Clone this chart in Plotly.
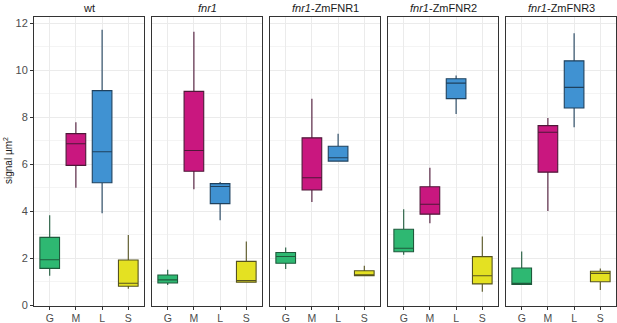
import plotly.graph_objects as go

categories = ["G", "M", "L", "S"]
panel_titles = ["wt", "<i>fnr1</i>", "<i>fnr1</i>-ZmFNR1", "<i>fnr1</i>-ZmFNR2", "<i>fnr1</i>-ZmFNR3"]

# per panel: values for G, M, L, S
wt_lower = [1.25, 5.00, 3.91, 0.69]
wt_q1 = [1.56, 5.95, 5.21, 0.80]
wt_median = [1.93, 6.87, 6.53, 0.93]
wt_q3 = [2.88, 7.30, 9.13, 1.92]
wt_upper = [3.82, 7.78, 11.72, 2.98]

fnr1_lower = [0.85, 4.93, 3.61, 0.97]
fnr1_q1 = [0.94, 5.70, 4.32, 0.97]
fnr1_median = [1.07, 6.58, 5.05, 1.04]
fnr1_q3 = [1.28, 9.10, 5.17, 1.86]
fnr1_upper = [1.50, 11.64, 5.24, 2.71]

zm1_lower = [1.53, 4.39, 6.10, 1.25]
zm1_q1 = [1.78, 4.90, 6.13, 1.25]
zm1_median = [2.07, 5.42, 6.27, 1.28]
zm1_q3 = [2.24, 7.12, 6.76, 1.46]
zm1_upper = [2.45, 8.79, 7.30, 1.67]

zm2_lower = [2.14, 3.48, 8.14, 0.57]
zm2_q1 = [2.27, 3.87, 8.79, 0.90]
zm2_median = [2.42, 4.29, 9.45, 1.25]
zm2_q3 = [3.23, 5.04, 9.64, 2.06]
zm2_upper = [4.08, 5.85, 9.78, 2.92]

zm3_lower = [0.88, 4.01, 7.57, 0.64]
zm3_q1 = [0.88, 5.66, 8.39, 0.99]
zm3_median = [0.90, 7.36, 9.27, 1.35]
zm3_q3 = [1.58, 7.64, 10.40, 1.44]
zm3_upper = [2.28, 7.97, 11.58, 1.56]

y_ticks = [0, 2, 4, 6, 8, 10, 12]

panels = [
    (wt_lower, wt_q1, wt_median, wt_q3, wt_upper),
    (fnr1_lower, fnr1_q1, fnr1_median, fnr1_q3, fnr1_upper),
    (zm1_lower, zm1_q1, zm1_median, zm1_q3, zm1_upper),
    (zm2_lower, zm2_q1, zm2_median, zm2_q3, zm2_upper),
    (zm3_lower, zm3_q1, zm3_median, zm3_q3, zm3_upper),
]

fills = ["#2EB872", "#C9177F", "#4092D2", "#E4E122"]
edges = ["#1F5A3C", "#4E1838", "#1F415E", "#555320"]

W, H = 617, 323
FONT = "Liberation Sans, Arial, sans-serif"

fig = go.Figure()
layout = dict(
    width=W, height=H,
    margin=dict(l=0, r=0, t=0, b=0, pad=0),
    paper_bgcolor="white", plot_bgcolor="white",
    showlegend=False,
    font=dict(family=FONT, size=11, color="#4D4D4D"),
)

y0, y1 = (323 - 305.5) / H, (323 - 16.7) / H
annotations = []
for i, (lo, q1, med, q3, up) in enumerate(panels):
    ax = "" if i == 0 else str(i + 1)
    left = 34 + i * 118
    right = min(left + 110, 616)
    for j, c in enumerate(categories):
        fig.add_trace(go.Box(
            x=[c], q1=[q1[j]], median=[med[j]], q3=[q3[j]],
            lowerfence=[lo[j]], upperfence=[up[j]],
            fillcolor=fills[j], line=dict(color=edges[j], width=1.1),
            whiskerwidth=0, width=0.75, boxpoints=False,
            xaxis="x" + ax, yaxis="y" + ax, hoverinfo="skip",
        ))
    layout["xaxis" + ax] = dict(
        domain=[left / W, right / W], anchor="y" + ax, automargin=False,
        type="category", categoryorder="array", categoryarray=categories,
        range=[-0.6, 3.6], showgrid=True, gridcolor="#EBEBEB", gridwidth=1,
        showline=True, mirror=True, linecolor="#333333", linewidth=1,
        ticks="outside", ticklen=3, tickcolor="#333333",
        tickfont=dict(family=FONT, size=10.5, color="#4D4D4D"), zeroline=False,
        fixedrange=True,
    )
    layout["yaxis" + ax] = dict(
        domain=[y0, y1], anchor="x" + ax, automargin=False,
        range=[-0.02, 12.28], tickvals=y_ticks,
        showticklabels=(i == 0),
        ticks="outside" if i == 0 else "", ticklen=3, tickcolor="#333333",
        showgrid=True, gridcolor="#EBEBEB", gridwidth=1,
        minor=dict(dtick=1, tick0=1, showgrid=True, gridcolor="#F4F4F4", gridwidth=1),
        showline=True, mirror=True, linecolor="#333333", linewidth=1,
        zeroline=False, tickfont=dict(family=FONT, size=11, color="#4D4D4D"),
        fixedrange=True,
    )
    annotations.append(dict(
        text=panel_titles[i], x=(left + right) / 2 / W, y=(323 - 8) / H,
        xref="paper", yref="paper", showarrow=False,
        font=dict(family=FONT, size=11, color="#1A1A1A"),
        xanchor="center", yanchor="middle",
    ))

annotations.append(dict(
    text="signal µm<sup>2</sup>", x=8 / W, y=(323 - 161) / H,
    xref="paper", yref="paper", showarrow=False, textangle=-90,
    font=dict(family=FONT, size=10, color="#1A1A1A"),
    xanchor="center", yanchor="middle",
))
layout["annotations"] = annotations
fig.update_layout(**layout)
fig.write_html(
    "out.html",
    config={"displayModeBar": False},
    post_script="document.body.style.margin='0';document.body.style.overflow='hidden';",
)
